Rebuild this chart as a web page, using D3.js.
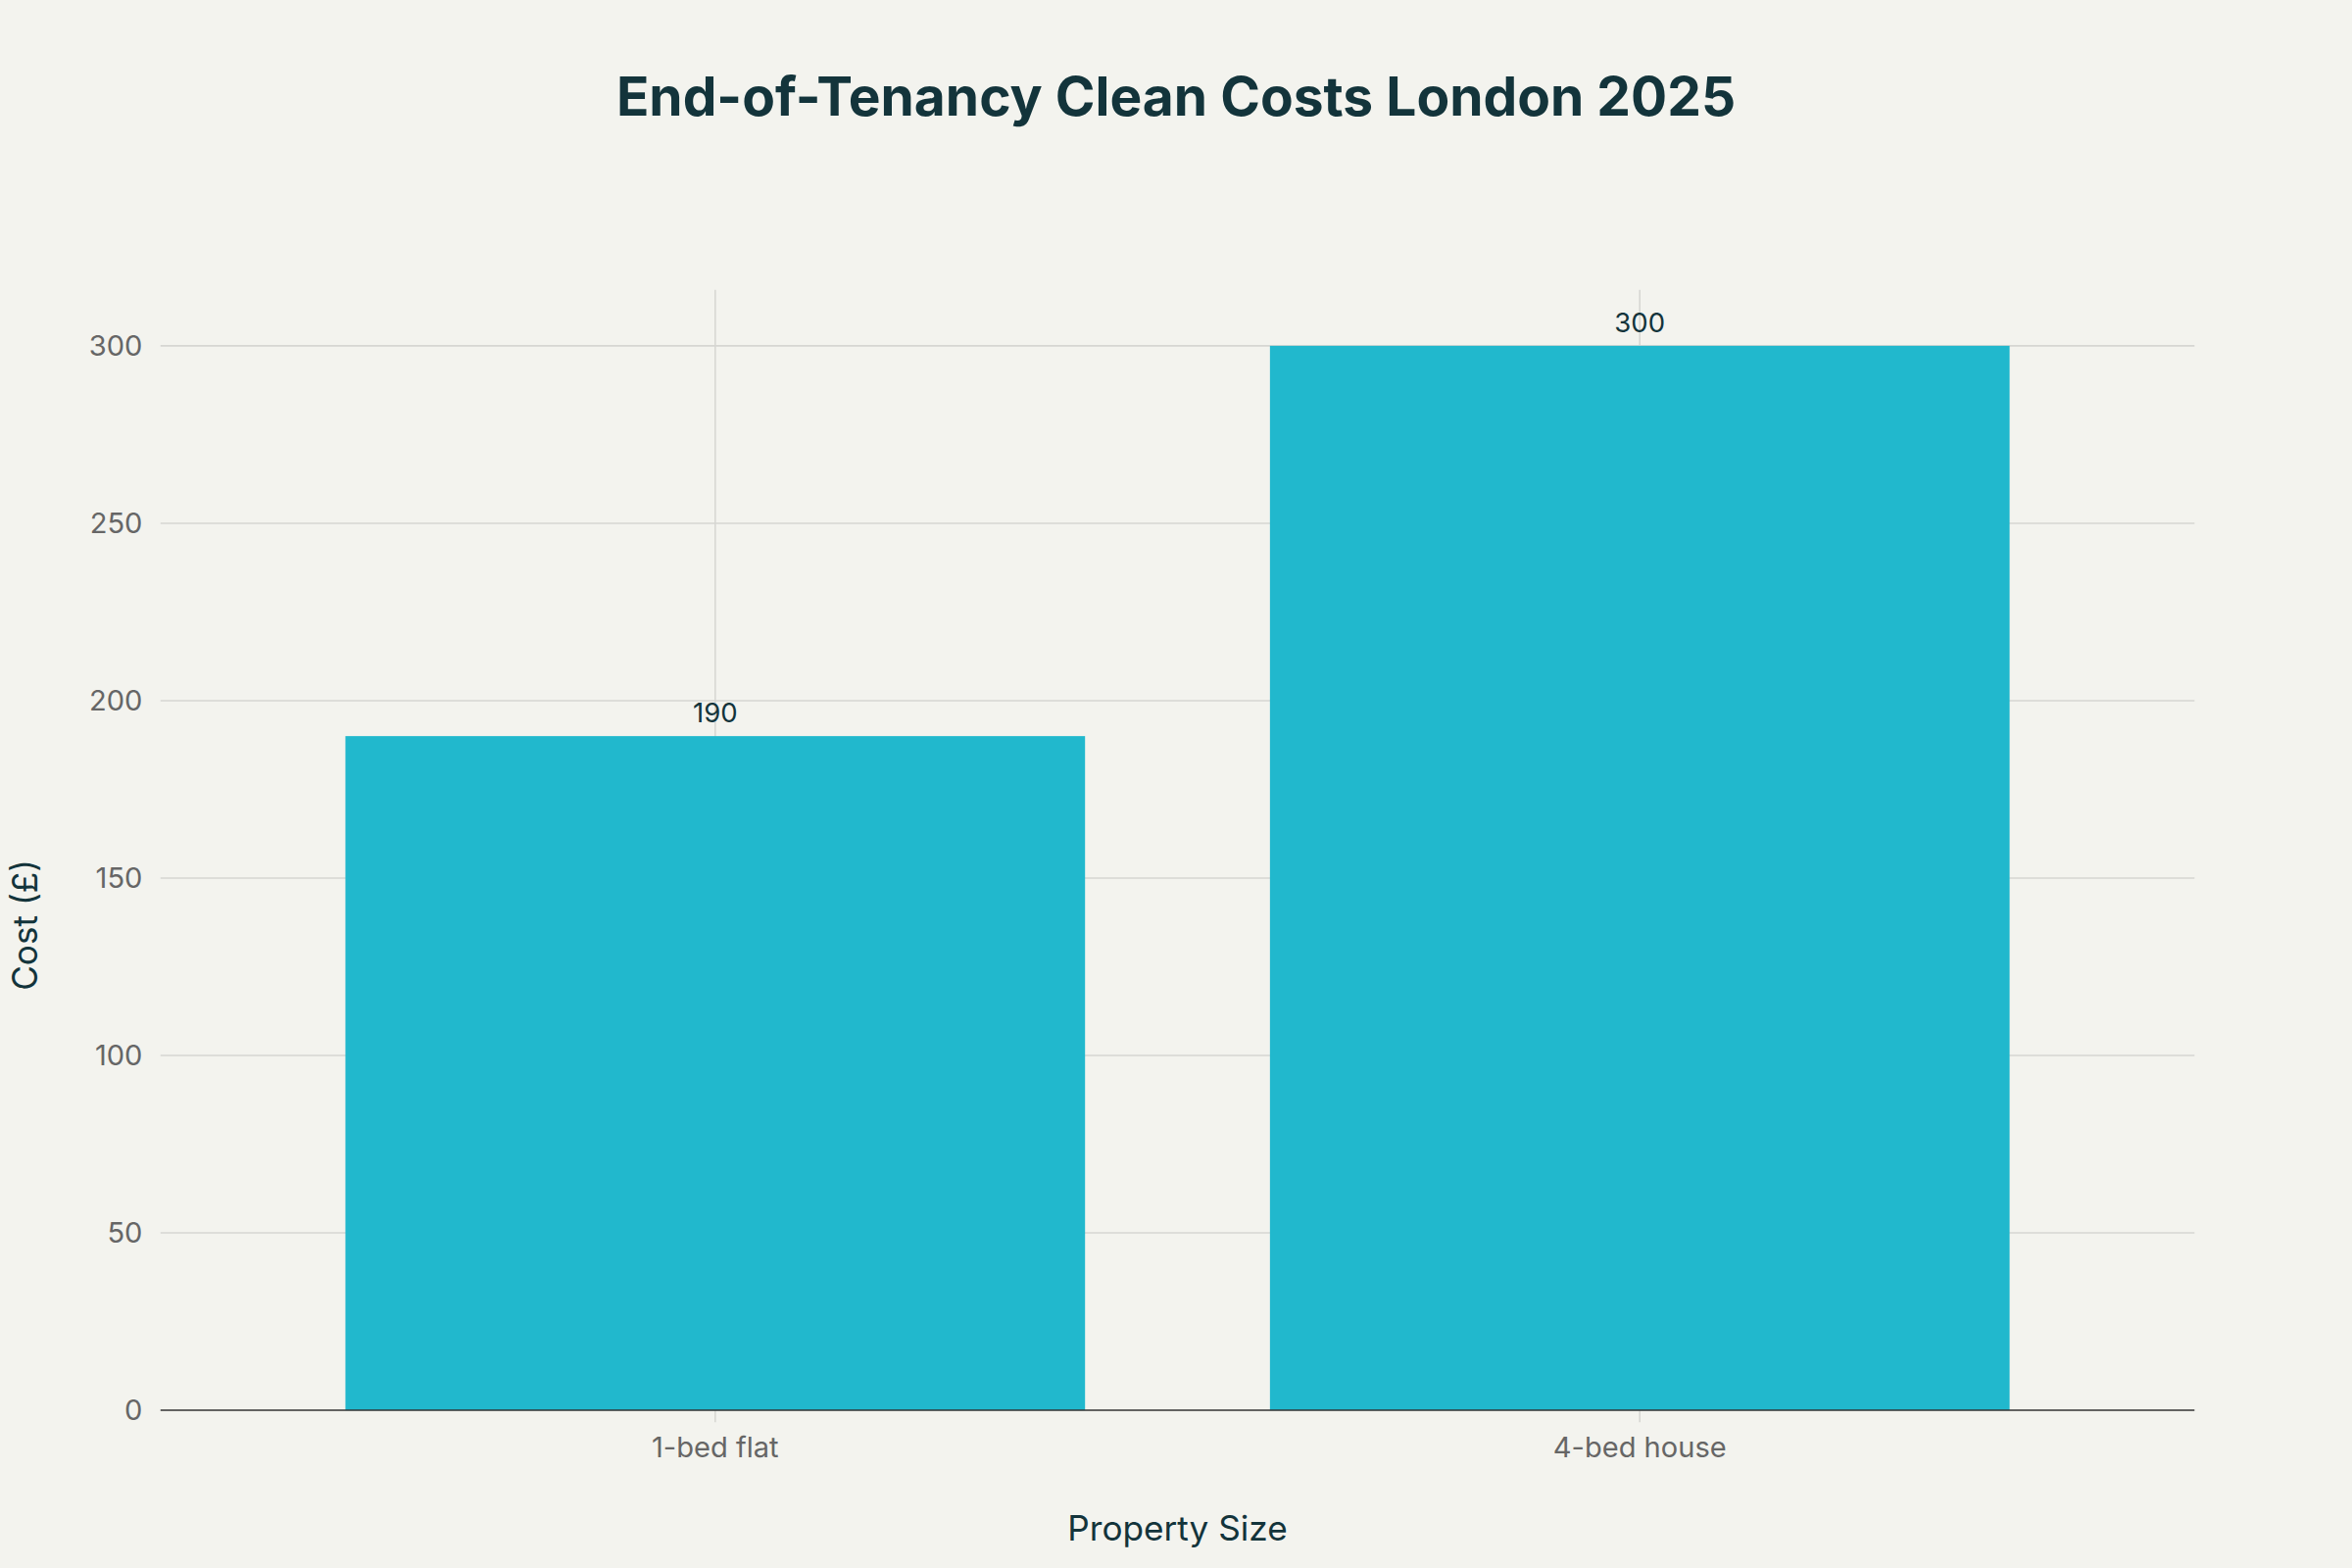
<!DOCTYPE html>
<html lang="en">
<head>
<meta charset="utf-8">
<title>End-of-Tenancy Clean Costs</title>
<script src="https://d3js.org/d3.v7.min.js"></script>
<style>
  body { margin: 0; background: #f3f3ee; }
  text { font-family: Inter, "Noto Sans", sans-serif; }
</style>
</head>
<body>
<div id="chart"></div>
<script>
const categories = ["1-bed flat", "4-bed house"];
const costs = [190, 300];
const yTicks = [0, 50, 100, 150, 200, 250, 300];

// drawn in a 1568x1045 frame, scaled up to the 2400x1600 window
const W = 1568, H = 1045;
const plotLeft = 107, plotRight = 1463, plotTop = 193, plotBottom = 940;

const svg = d3.select("#chart").append("svg")
  .attr("width", 2400).attr("height", 1600)
  .attr("viewBox", [0, 0, W, H])
  .style("background", "#f3f3ee");

const x = d3.scaleBand().domain(categories).range([plotLeft, plotRight]).padding(0.2);
const y = d3.scaleLinear().domain([0, 315.8]).range([plotBottom, plotTop]);

// horizontal grid
svg.append("g").selectAll("line").data(yTicks.filter(d => d > 0)).join("line")
  .attr("x1", plotLeft).attr("x2", plotRight)
  .attr("y1", d => y(d)).attr("y2", d => y(d))
  .attr("stroke", "#d6d6d2").attr("stroke-width", 1);

// vertical grid at categories
svg.append("g").selectAll("line").data(categories).join("line")
  .attr("x1", d => x(d) + x.bandwidth() / 2).attr("x2", d => x(d) + x.bandwidth() / 2)
  .attr("y1", plotTop).attr("y2", plotBottom + 8)
  .attr("stroke", "#d6d6d2").attr("stroke-width", 1);

// bars
svg.append("g").selectAll("rect").data(categories).join("rect")
  .attr("x", d => x(d)).attr("width", x.bandwidth())
  .attr("y", (d, i) => y(costs[i])).attr("height", (d, i) => y(0) - y(costs[i]))
  .attr("fill", "#21b8cd");

// value labels
svg.append("g").selectAll("text").data(categories).join("text")
  .attr("x", d => x(d) + x.bandwidth() / 2)
  .attr("y", (d, i) => y(costs[i]) - 9)
  .attr("text-anchor", "middle").attr("font-size", 18).attr("fill", "#13343b")
  .text((d, i) => costs[i]);

// zero line
svg.append("line").attr("x1", plotLeft).attr("x2", plotRight)
  .attr("y1", y(0)).attr("y2", y(0)).attr("stroke", "#333").attr("stroke-width", 1);

// y axis
const yAxis = svg.append("g").attr("transform", `translate(${plotLeft},0)`)
  .call(d3.axisLeft(y).tickValues(yTicks).tickSize(0).tickPadding(12));
yAxis.select(".domain").remove();
yAxis.selectAll("text").attr("font-size", 19).attr("fill", "#666");

// x axis
const xAxis = svg.append("g").attr("transform", `translate(0,${plotBottom})`)
  .call(d3.axisBottom(x).tickSize(0).tickPadding(18));
xAxis.select(".domain").remove();
xAxis.selectAll("text").attr("font-size", 19).attr("fill", "#666");

// titles
svg.append("text").attr("x", W / 2).attr("y", 77).attr("text-anchor", "middle")
  .attr("font-size", 36).attr("font-weight", "bold").attr("fill", "#13343b")
  .text("End-of-Tenancy Clean Costs London 2025");

svg.append("text").attr("x", (plotLeft + plotRight) / 2).attr("y", 1027).attr("text-anchor", "middle")
  .attr("font-size", 23).attr("fill", "#13343b").text("Property Size");

svg.append("text").attr("transform", `translate(25,${(plotTop + plotBottom) / 2 + 50}) rotate(-90)`)
  .attr("text-anchor", "middle").attr("font-size", 23).attr("fill", "#13343b")
  .text("Cost (£)");
</script>
</body>
</html>
